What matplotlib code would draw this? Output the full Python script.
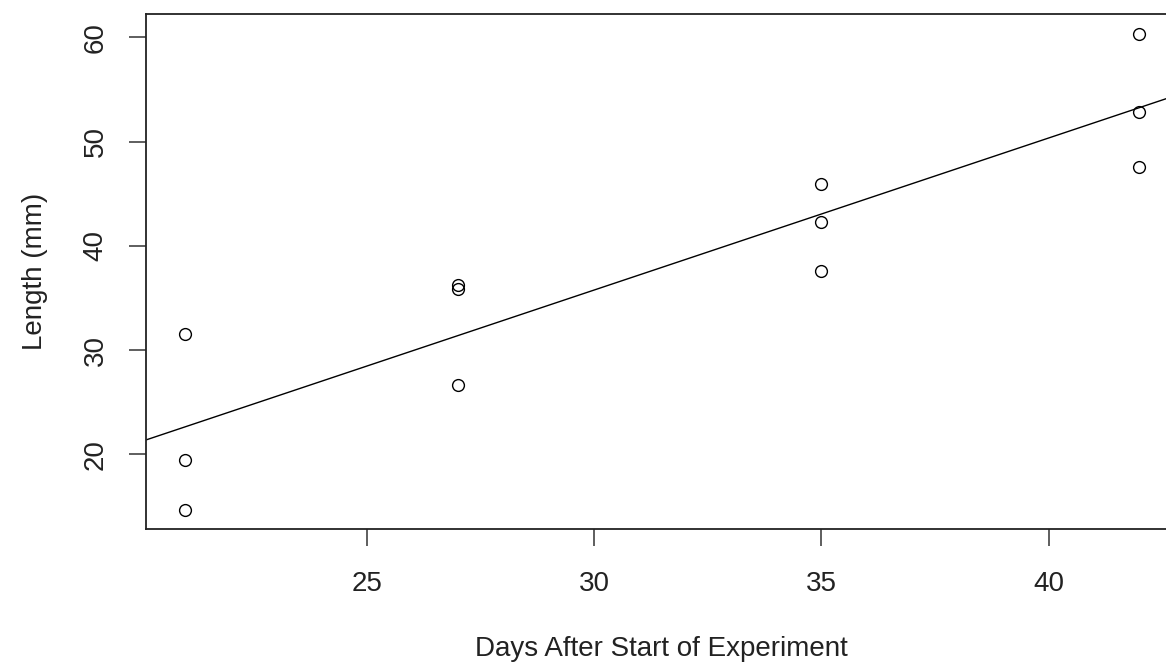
import matplotlib
matplotlib.use("Agg")
import matplotlib.pyplot as plt
import numpy as np

# Data
days = [21, 21, 21, 27, 27, 27, 35, 35, 35, 42, 42, 42]
length_mm = [31.6, 19.5, 14.7, 36.25, 35.85, 26.65, 45.95, 42.25, 37.6, 60.35, 52.8, 47.6]
x_ticks = [25, 30, 35, 40]
y_ticks = [20, 30, 40, 50, 60]

plt.rcParams['font.family'] = ['Liberation Sans', 'DejaVu Sans']

fig = plt.figure(figsize=(11.66, 6.68), dpi=100)
# the right edge of the box runs past the image, as in the reference
ax = fig.add_axes([0.1252, 0.2081, 0.8848, 0.7710])

x = np.array(days, dtype=float)
y = np.array(length_mm, dtype=float)

ax.plot(x, y, linestyle='none', marker='o', markersize=8.5, markerfacecolor='none',
        markeredgecolor='black', markeredgewidth=1.0)

# least squares line, like abline(lm(...))
slope, intercept = np.polyfit(x, y, 1)
xl = np.array([15, 50])
ax.plot(xl, intercept + slope * xl, color='black', linewidth=1.0)

ax.set_xlim(20.14, 42.84)
ax.set_ylim(12.85, 62.25)
ax.set_xticks(x_ticks)
ax.set_yticks(y_ticks)
ax.tick_params(axis='both', direction='out', length=12, width=1.1, color='#333333',
               labelsize=20, labelcolor='#222222')
ax.tick_params(axis='x', pad=18.5)
ax.tick_params(axis='y', pad=15)
for lab in ax.get_yticklabels():
    lab.set_rotation(90)
    lab.set_va('center')

for s in ax.spines.values():
    s.set_linewidth(1.3)
    s.set_color('#222222')

ax.set_xlabel('Days After Start of Experiment', fontsize=20, color='#222222', labelpad=28)
ax.set_ylabel('Length (mm)', fontsize=20, color='#222222', labelpad=25)

fig.savefig('out.png', dpi=100)
